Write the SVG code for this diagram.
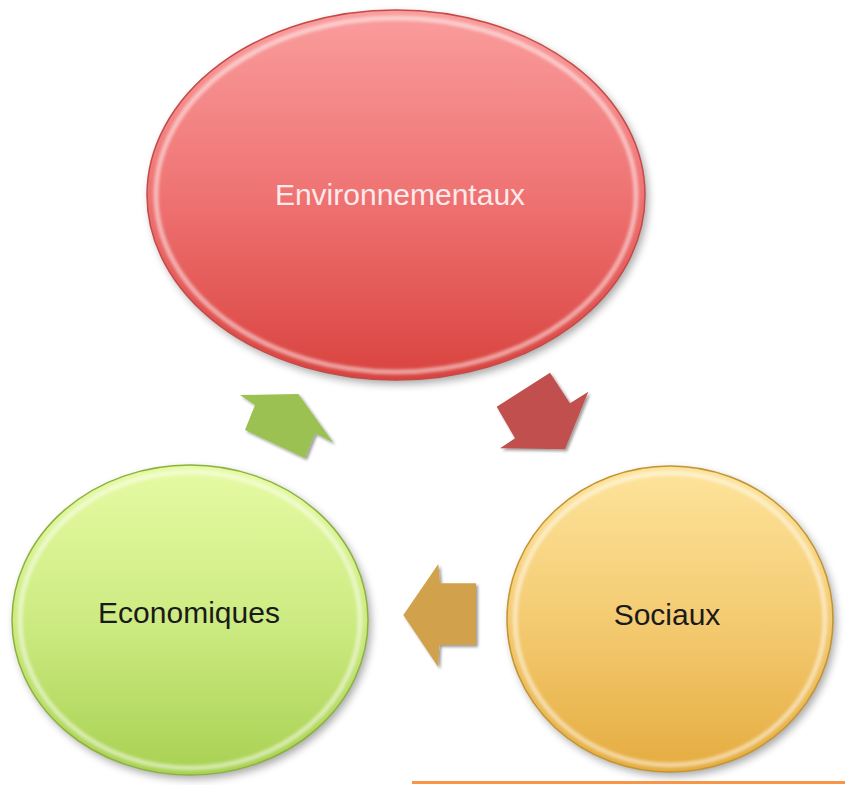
<svg xmlns="http://www.w3.org/2000/svg" width="845" height="785" viewBox="0 0 845 785">
  <defs>
    <linearGradient id="gRed" x1="0" y1="0" x2="0" y2="1">
      <stop offset="0" stop-color="#fa9d9d"/>
      <stop offset="0.5" stop-color="#ef7373"/>
      <stop offset="1" stop-color="#d9433f"/>
    </linearGradient>
    <linearGradient id="gGreen" x1="0" y1="0" x2="0" y2="1">
      <stop offset="0" stop-color="#e6fba4"/>
      <stop offset="0.5" stop-color="#cdeb82"/>
      <stop offset="1" stop-color="#a8d152"/>
    </linearGradient>
    <linearGradient id="gOrange" x1="0" y1="0" x2="0" y2="1">
      <stop offset="0" stop-color="#fde49c"/>
      <stop offset="0.5" stop-color="#f4cb72"/>
      <stop offset="1" stop-color="#e5ac40"/>
    </linearGradient>
    <filter id="shadow" x="-20%" y="-20%" width="140%" height="140%">
      <feGaussianBlur stdDeviation="4"/>
    </filter>
    <filter id="soft" x="-10%" y="-10%" width="120%" height="120%">
      <feGaussianBlur stdDeviation="1.6"/>
    </filter>
    <filter id="ashadow" x="-20%" y="-20%" width="140%" height="140%">
      <feGaussianBlur in="SourceAlpha" stdDeviation="1.5"/>
      <feOffset dx="1.5" dy="2" result="b"/>
      <feComponentTransfer><feFuncA type="linear" slope="0.4"/></feComponentTransfer>
      <feMerge><feMergeNode/><feMergeNode in="SourceGraphic"/></feMerge>
    </filter>
  </defs>
  <style>
    .shadow { fill: #000; opacity: 0.35; filter: url(#shadow); }
    .rim { fill: none; stroke: #ffffff; stroke-opacity: 0.5; stroke-width: 5; filter: url(#soft); }
    .lbl { font-family: "Liberation Sans", Arial, sans-serif; font-size: 30px; text-anchor: middle; }
    .arrow { filter: url(#ashadow); }
  </style>
  <rect width="845" height="785" fill="#ffffff"/>

  <g id="node-env">
    <ellipse class="shadow" cx="399" cy="199" rx="249" ry="185"/>
    <ellipse cx="396" cy="195" rx="249" ry="185" fill="url(#gRed)" stroke="#c44a48" stroke-width="1.5"/>
    <ellipse class="rim" cx="396" cy="195" rx="240" ry="177"/>
    <text class="lbl" x="400" y="205" fill="#fdeaea">Environnementaux</text>
  </g>

  <g id="node-eco">
    <ellipse class="shadow" cx="193" cy="624" rx="178" ry="155"/>
    <ellipse cx="190" cy="620" rx="178" ry="155" fill="url(#gGreen)" stroke="#8cb23c" stroke-width="1.5"/>
    <ellipse class="rim" cx="190" cy="620" rx="170" ry="148"/>
    <text class="lbl" x="189" y="623" fill="#1a1a1a">Economiques</text>
  </g>

  <g id="node-soc">
    <ellipse class="shadow" cx="673" cy="623" rx="163" ry="153"/>
    <ellipse cx="670" cy="619" rx="163" ry="153" fill="url(#gOrange)" stroke="#c4952f" stroke-width="1.5"/>
    <ellipse class="rim" cx="670" cy="619" rx="155" ry="146"/>
    <text class="lbl" x="667" y="625" fill="#1a1a1a">Sociaux</text>
  </g>

  <g id="connectors">
    <polygon class="arrow" fill="#c0504d" points="550,372.7 570,403.3 588.3,391.7 565,449.3 500,448.3 515,438.3 496.7,406.7"/>
    <polygon class="arrow" fill="#d1a24b" points="403.3,615 438.3,564 440,583.3 476,583.3 476,645 439.3,645 438.3,667.3"/>
    <polygon class="arrow" fill="#9bc153" points="240,395 298.3,394 333.3,442.7 315,433.3 305,458.3 245,430 255,405"/>
  </g>

  <line x1="412" y1="782.5" x2="845" y2="782.5" stroke="#f79646" stroke-width="3"/>
</svg>
